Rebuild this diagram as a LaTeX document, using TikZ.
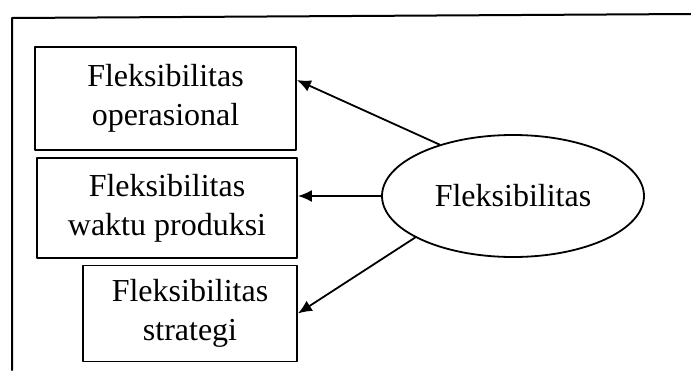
\documentclass[tikz,border=0pt]{standalone}
\usepackage{fontspec}
\setmainfont{Liberation Serif}
\usetikzlibrary{shapes.geometric, arrows.meta}
\begin{document}
\begin{tikzpicture}[x=0.5pt, y=-0.5pt, line join=round, line cap=round, >={Latex[length=7pt, width=6pt]},
	kotak/.style={draw, line width=0.9pt, align=center, inner sep=0pt},
	elips/.style={draw, ellipse, line width=0.9pt, inner sep=0pt, minimum width=131pt, minimum height=61pt}]
				\useasboundingbox (0,0) rectangle (691,370);
				\fontsize{16}{19.5}\selectfont
				% bingkai luar
				\draw[line width=1pt] (691,14) -- (12,18) -- (12,370);
				\node[kotak, minimum width=130.5pt, minimum height=51.5pt] (op) at (165.5,98.5) {Fleksibilitas\\operasional};
				\node[kotak, minimum width=130pt, minimum height=50pt] (wp) at (167,208) {Fleksibilitas\\waktu produksi};
				\node[kotak, minimum width=107pt, minimum height=48pt] (st) at (190,313.5) {Fleksibilitas\\strategi};
				\node[elips] (fx) at (513,196) {Fleksibilitas};
				\draw[->, line width=0.9pt] (fx.145) -- (op.8);
				\draw[->, line width=0.9pt] (fx.west) -- (wp.east |- fx.west);
				\draw[->, line width=0.9pt] (fx.203) -- (st.east);
			\end{tikzpicture}
\end{document}
